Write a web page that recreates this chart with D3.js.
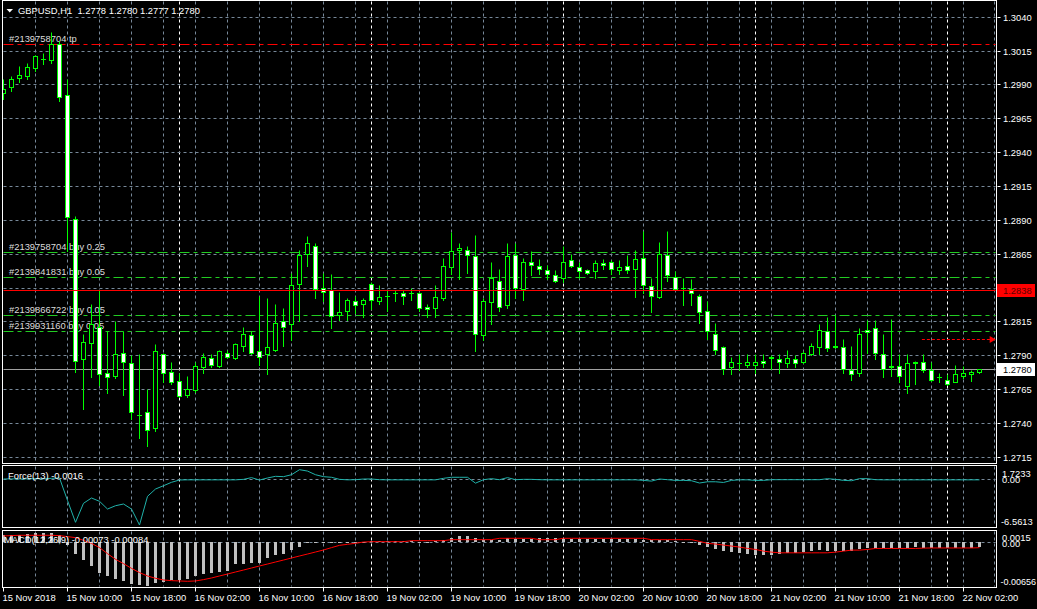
<!DOCTYPE html>
<html><head><meta charset="utf-8">
<script src="https://cdn.jsdelivr.net/npm/d3@7"></script>
<style>html,body{margin:0;padding:0;background:#000;}svg{display:block;}</style>
</head><body>
<svg id="c" width="1037" height="609"></svg>
<script>
// ---------- DATA ----------
const open  = [1.2984,1.2988,1.2995,1.2996,1.3002,1.3009,1.3008,1.3020,1.2982,1.2891,1.2787,1.2799,1.2811,1.2777,1.2775,1.2792,1.2784,1.2746,1.2748,1.2736,1.2791,1.2778,1.2771,1.2761,1.2764,1.2781,1.2788,1.2782,1.2792,1.2788,1.2797,1.2805,1.2793,1.2791,1.2794,1.2815,1.2813,1.2843,1.2865,1.2871,1.2840,1.2838,1.2820,1.2823,1.2830,1.2828,1.2843,1.2830,1.2834,1.2836,1.2836,1.2836,1.2836,1.2826,1.2825,1.2832,1.2855,1.2868,1.2868,1.2863,1.2805,1.2829,1.2845,1.2827,1.2864,1.2839,1.2859,1.2856,1.2853,1.2849,1.2847,1.2860,1.2855,1.2853,1.2852,1.2858,1.2859,1.2853,1.2856,1.2854,1.2862,1.2841,1.2833,1.2864,1.2848,1.2840,1.2839,1.2834,1.2823,1.2806,1.2796,1.2781,1.2784,1.2783,1.2783,1.2786,1.2788,1.2787,1.2784,1.2787,1.2785,1.2791,1.2796,1.2808,1.2797,1.2796,1.2779,1.2777,1.2809,1.2810,1.2791,1.2782,1.2782,1.2767,1.2784,1.2785,1.2779,1.2774,1.2772,1.2770,1.2775,1.2776,1.2778];
const high  = [1.2994,1.2996,1.3004,1.3006,1.3012,1.3013,1.3029,1.3022,1.2994,1.2893,1.2806,1.2828,1.2838,1.2808,1.2815,1.2808,1.2790,1.2791,1.2765,1.2798,1.2792,1.2785,1.2777,1.2775,1.2785,1.2792,1.2791,1.2794,1.2794,1.2799,1.2811,1.2808,1.2834,1.2832,1.2828,1.2825,1.2851,1.2868,1.2878,1.2873,1.2851,1.2850,1.2837,1.2832,1.2834,1.2832,1.2844,1.2842,1.2838,1.2838,1.2838,1.2840,1.2837,1.2828,1.2842,1.2862,1.2881,1.2873,1.2871,1.2879,1.2832,1.2859,1.2854,1.2873,1.2873,1.2862,1.2867,1.2861,1.2857,1.2853,1.2871,1.2865,1.2859,1.2854,1.2860,1.2861,1.2860,1.2860,1.2864,1.2868,1.2882,1.2847,1.2874,1.2882,1.2852,1.2847,1.2846,1.2835,1.2830,1.2814,1.2797,1.2789,1.2791,1.2791,1.2791,1.2791,1.2790,1.2791,1.2794,1.2790,1.2793,1.2799,1.2813,1.2818,1.2820,1.2802,1.2797,1.2810,1.2816,1.2816,1.2806,1.2817,1.2791,1.2791,1.2786,1.2791,1.2785,1.2777,1.2776,1.2783,1.2782,1.2779,1.2780];
const low   = [1.2979,1.2985,1.2992,1.2994,1.3000,1.3005,1.3006,1.2978,1.2867,1.2778,1.2750,1.2774,1.2768,1.2762,1.2773,1.2761,1.2743,1.2729,1.2723,1.2734,1.2770,1.2769,1.2759,1.2759,1.2763,1.2777,1.2781,1.2781,1.2788,1.2787,1.2793,1.2791,1.2783,1.2776,1.2793,1.2797,1.2801,1.2815,1.2856,1.2832,1.2830,1.2810,1.2816,1.2816,1.2821,1.2818,1.2824,1.2828,1.2823,1.2830,1.2828,1.2831,1.2823,1.2818,1.2818,1.2831,1.2850,1.2846,1.2851,1.2793,1.2801,1.2813,1.2823,1.2825,1.2832,1.2831,1.2849,1.2850,1.2846,1.2844,1.2844,1.2855,1.2847,1.2850,1.2847,1.2854,1.2850,1.2850,1.2851,1.2833,1.2836,1.2822,1.2832,1.2845,1.2838,1.2827,1.2827,1.2814,1.2802,1.2791,1.2776,1.2776,1.2779,1.2781,1.2777,1.2781,1.2780,1.2777,1.2781,1.2781,1.2784,1.2790,1.2791,1.2793,1.2795,1.2777,1.2772,1.2775,1.2792,1.2787,1.2774,1.2775,1.2770,1.2762,1.2769,1.2778,1.2771,1.2770,1.2768,1.2770,1.2773,1.2771,1.2777];
const close = [1.2987,1.2994,1.2997,1.3003,1.3011,1.3009,1.3020,1.2981,1.2892,1.2786,1.2800,1.2813,1.2776,1.2774,1.2791,1.2785,1.2748,1.2746,1.2735,1.2793,1.2777,1.2770,1.2760,1.2765,1.2782,1.2789,1.2783,1.2793,1.2789,1.2798,1.2806,1.2792,1.2789,1.2796,1.2814,1.2811,1.2842,1.2864,1.2873,1.2839,1.2837,1.2819,1.2822,1.2831,1.2827,1.2831,1.2831,1.2833,1.2834,1.2836,1.2834,1.2836,1.2825,1.2824,1.2833,1.2856,1.2867,1.2869,1.2864,1.2806,1.2830,1.2847,1.2826,1.2863,1.2840,1.2859,1.2857,1.2854,1.2850,1.2845,1.2859,1.2856,1.2852,1.2851,1.2858,1.2857,1.2854,1.2855,1.2853,1.2861,1.2842,1.2834,1.2865,1.2849,1.2839,1.2840,1.2836,1.2822,1.2808,1.2794,1.2780,1.2785,1.2784,1.2785,1.2785,1.2784,1.2789,1.2785,1.2788,1.2784,1.2792,1.2797,1.2809,1.2795,1.2796,1.2780,1.2776,1.2806,1.2807,1.2792,1.2780,1.2781,1.2775,1.2784,1.2785,1.2779,1.2772,1.2774,1.2769,1.2776,1.2777,1.2778,1.2780];

const force = [0.10,0.12,0.10,0.12,0.15,0.12,0.20,0.25,-3.00,-6.17,-3.42,-2.65,-3.13,-4.25,-3.77,-3.52,-4.25,-6.56,-2.41,-1.35,-0.87,-0.38,-0.04,-0.02,-0.02,-0.02,-0.02,-0.02,-0.02,-0.02,0.05,0.30,-0.05,0.25,0.49,0.44,0.72,1.45,1.25,0.72,0.44,0.35,0.05,-0.02,0.00,0.10,0.10,0.00,-0.02,-0.02,-0.02,-0.02,-0.02,-0.02,-0.02,0.20,0.35,0.35,0.35,-0.50,0.00,0.15,0.00,0.30,0.00,0.05,0.05,0.00,-0.02,-0.02,-0.02,-0.02,-0.02,-0.02,-0.02,-0.02,-0.02,-0.02,-0.02,-0.02,-0.10,-0.20,0.10,0.00,-0.10,-0.10,-0.15,-0.48,-0.30,-0.30,-0.40,-0.10,-0.02,-0.02,-0.10,-0.10,0.00,0.00,0.00,0.00,0.00,0.00,0.00,0.15,0.05,-0.10,-0.15,0.15,0.15,0.00,-0.02,-0.02,-0.02,-0.02,-0.02,-0.02,-0.02,-0.02,-0.02,-0.02,-0.02,-0.02,-0.02];

const macd = [0.0011,0.0011,0.0011,0.0012,0.0013,0.0013,0.0014,0.0010,-0.0004,-0.00172,-0.00271,-0.00355,-0.00453,-0.00503,-0.00542,-0.00578,-0.00616,-0.00637,-0.00652,-0.00612,-0.00587,-0.00567,-0.00567,-0.00542,-0.00503,-0.00478,-0.00459,-0.00438,-0.00429,-0.0033,-0.0033,-0.00305,-0.00305,-0.00231,-0.00193,-0.00172,-0.00123,-0.00074,-0.0001,-0.00005,-0.0001,0.0000,0.00005,0.00005,0.00005,0.0000,0.0001,0.0001,0.0001,0.0001,0.0001,0.0001,0.00005,0.00005,0.0001,0.00035,0.00055,0.00084,0.00084,0.00055,0.00025,0.00025,0.00025,0.00055,0.00045,0.0004,0.00045,0.00055,0.00055,0.00055,0.0005,0.00045,0.00045,0.00045,0.00045,0.00045,0.00045,0.00045,0.00045,0.00045,0.0003,0.00025,0.00025,0.0003,0.0001,0.0000,-0.0002,-0.00045,-0.0007,-0.0011,-0.0013,-0.0015,-0.0016,-0.0018,-0.0020,-0.0020,-0.0019,-0.0018,-0.0016,-0.0016,-0.0015,-0.0014,-0.0012,-0.0013,-0.0014,-0.0014,-0.0014,-0.0010,-0.0009,-0.0009,-0.00095,-0.0009,-0.0009,-0.0009,-0.0008,-0.0009,-0.00095,-0.00095,-0.00095,-0.0009,-0.0009,-0.00085,-0.00073];

const signal = [0.0009,0.00095,0.0010,0.0010,0.0010,0.0010,0.0010,0.00095,0.0008,0.00065,0.00025,-0.0002,-0.00083,-0.00172,-0.00256,-0.0032,-0.0039,-0.00453,-0.00503,-0.00537,-0.00562,-0.00572,-0.00577,-0.00582,-0.00577,-0.00557,-0.00533,-0.00503,-0.00474,-0.00444,-0.00415,-0.00385,-0.00355,-0.00326,-0.00296,-0.00267,-0.00237,-0.00207,-0.00178,-0.00148,-0.00118,-0.00083,-0.00049,-0.00034,-0.00019,0.0000,0.00005,0.00005,0.00005,0.00005,0.00005,0.0002,0.0002,0.0002,0.0002,0.0002,0.00035,0.00035,0.00035,0.00035,0.00035,0.00035,0.00055,0.00055,0.00055,0.00055,0.00055,0.00035,0.00035,0.00035,0.00055,0.00055,0.00055,0.00055,0.00055,0.00055,0.00055,0.00055,0.00055,0.00055,0.00055,0.00035,0.00035,0.00035,0.00035,0.00035,0.00035,0.0001,-0.0002,-0.0003,-0.00045,-0.0006,-0.00075,-0.00095,-0.0011,-0.00135,-0.0015,-0.0016,-0.0016,-0.0016,-0.0016,-0.0016,-0.0016,-0.0016,-0.0015,-0.00135,-0.0012,-0.0012,-0.0011,-0.00095,-0.00095,-0.00095,-0.00095,-0.00095,-0.00095,-0.0009,-0.00088,-0.00088,-0.00088,-0.00088,-0.00088,-0.00088,-0.00084];

const priceTicks = [1.3040,1.3015,1.2990,1.2965,1.2940,1.2915,1.2890,1.2865,1.2840,1.2815,1.2790,1.2765,1.2740,1.2715];
const priceTickLabels = ["1.3040","1.3015","1.2990","1.2965","1.2940","1.2915","1.2890","1.2865","","1.2815","1.2790","1.2765","1.2740","1.2715"];
const timeLabelBars = [0,8,16,24,32,40,48,56,64,72,80,88,96,104,112,120];
const timeLabels = ["15 Nov 2018","15 Nov 10:00","15 Nov 18:00","16 Nov 02:00","16 Nov 10:00","16 Nov 18:00","19 Nov 02:00","19 Nov 10:00","19 Nov 18:00","20 Nov 02:00","20 Nov 10:00","20 Nov 18:00","21 Nov 02:00","21 Nov 10:00","21 Nov 18:00","22 Nov 02:00"];
const daySeparatorBars = [22,46,70,94,118];
const orderLabels = ["#2139758704 tp","#2139758704 buy 0.25","#2139841831 buy 0.05","#2139866722 buy 0.05","#2139931160 buy 0.05"];
const orderPrices = [1.3020,1.2866,1.2848,1.2820,1.2808];
const orderColors = ["#ff0000","#22cc22","#22cc22","#22cc22","#22cc22"];
const hLinePrice = 1.2838;
const bidPrice = 1.2780;
const arrowPrice = 1.2802;
const arrowBars = [114.8, 123.9];
const forceRange = [-6.5613, 1.7233];
const macdRange = [-0.00656, 0.0015];

// ---------- LAYOUT ----------
const FONT = '"Liberation Sans", Arial, sans-serif';
const FS = 9.4;
const svg = d3.select('#c');
svg.append('rect').attr('width',1037).attr('height',609).attr('fill','#000');
const L = 2.5, R = 996.5;
const main = {top:0.5, bottom:463.5}, fp = {top:465.5, bottom:527.5}, mp = {top:530.5, bottom:587.5};
const px = v => Math.floor(v) + 0.5;

const x = d3.scaleLinear().domain([0,122]).range([3.5,979.5]);
const yP = d3.scaleLinear().domain([1.2715,1.3040]).range([457.3,17.3]);
const yF = d3.scaleLinear().domain(forceRange).range([525.0,467.8]);
const yM = d3.scaleLinear().domain(macdRange).range([586.3,531.9]);

const defs = svg.append('defs');
[['cm',main],['cf',fp],['cmacd',mp]].forEach(([id,p])=>{
  defs.append('clipPath').attr('id',id).append('rect')
    .attr('x',L+0.5).attr('y',p.top+0.5).attr('width',R-L-1).attr('height',p.bottom-p.top-1);
});

const GRID = '#778899';
const bars = d3.range(open.length);

// vertical grid in all panels
[main,fp,mp].forEach(p=>{
  const g = svg.append('g');
  g.selectAll('line.g').data(bars.filter(i=>i>0 && i%4===0)).join('line')
    .attr('x1',i=>x(i)).attr('x2',i=>x(i)).attr('y1',p.top+1).attr('y2',p.bottom-1)
    .attr('stroke',GRID).attr('stroke-dasharray','3,3');
  g.selectAll('line.d').data(daySeparatorBars).join('line')
    .attr('x1',i=>x(i)).attr('x2',i=>x(i)).attr('y1',p.top+1).attr('y2',p.bottom-1)
    .attr('stroke','#ffffff').attr('stroke-dasharray','3,3');
  svg.append('line').attr('x1',994.5).attr('x2',994.5).attr('y1',p.top+1).attr('y2',p.bottom-1)
    .attr('stroke',GRID).attr('stroke-dasharray','3,3');
});

// horizontal price grid
svg.append('g').selectAll('line').data(priceTicks).join('line')
  .attr('x1',L+1).attr('x2',R-1).attr('y1',d=>px(yP(d))).attr('y2',d=>px(yP(d)))
  .attr('stroke',GRID).attr('stroke-dasharray','3,3');

// order lines + labels
const mg = svg.append('g').attr('clip-path','url(#cm)');
mg.selectAll('text.ol').data(orderLabels).join('text')
  .attr('x',9).attr('y',(d,i)=>px(yP(orderPrices[i]))-3)
  .attr('fill','#dcdcdc').attr('font-family',FONT).attr('font-size',FS).text(d=>d);
mg.selectAll('line.ol').data(orderPrices).join('line')
  .attr('x1',L+1).attr('x2',R-1).attr('y1',d=>px(yP(d))).attr('y2',d=>px(yP(d)))
  .attr('stroke',(d,i)=>orderColors[i]).attr('stroke-dasharray','10,4,4,4');

// bid line
mg.append('line').attr('x1',L+1).attr('x2',R-1).attr('y1',px(yP(bidPrice))).attr('y2',px(yP(bidPrice)))
  .attr('stroke','#a0a0a0');

// candles
const cg = mg.append('g');
cg.selectAll('line.w').data(bars).join('line')
  .attr('x1',i=>x(i)).attr('x2',i=>x(i))
  .attr('y1',i=>px(yP(high[i]))).attr('y2',i=>px(yP(low[i]))+0.5)
  .attr('stroke','#00ff00');
bars.forEach(i=>{
  const yo = px(yP(open[i])), yc = px(yP(close[i]));
  const cx = x(i);
  if (Math.abs(yo-yc) < 1) {
    cg.append('line').attr('x1',cx-2.5).attr('x2',cx+2.5).attr('y1',yo).attr('y2',yo).attr('stroke','#00ff00');
  } else {
    cg.append('rect').attr('x',cx-2).attr('width',4)
      .attr('y',Math.min(yo,yc)).attr('height',Math.abs(yo-yc))
      .attr('fill', close[i] < open[i] ? '#ffffff' : '#000000')
      .attr('stroke','#00ff00');
  }
});

// red horizontal line (foreground)
mg.append('line').attr('x1',L+1).attr('x2',R-1).attr('y1',px(yP(hLinePrice))).attr('y2',px(yP(hLinePrice)))
  .attr('stroke','#ff0000');

// red dashed arrow
const ay = px(yP(arrowPrice));
mg.append('line').attr('x1',x(arrowBars[0])).attr('x2',x(arrowBars[1])-3).attr('y1',ay).attr('y2',ay)
  .attr('stroke','#ff0000').attr('stroke-dasharray','3,2');
mg.append('path').attr('d',`M${x(arrowBars[1])-5},${ay-3.5}L${x(arrowBars[1])+1},${ay}L${x(arrowBars[1])-5},${ay+3.5}Z`).attr('fill','#ff0000');

// title
svg.append('path').attr('d','M6.5,9L13,9L9.75,12.5Z').attr('fill','#ffffff');
svg.append('text').attr('x',18).attr('y',14).attr('fill','#ffffff').attr('font-family',FONT).attr('font-size',FS)
  .attr('xml:space','preserve').text('GBPUSD,H1  1.2778 1.2780 1.2777 1.2780');

// panel borders
[main,fp,mp].forEach(p=>{
  svg.append('rect').attr('x',L).attr('y',p.top).attr('width',R-L).attr('height',p.bottom-p.top)
    .attr('fill','none').attr('stroke','#ffffff');
});

// price axis
const pa = svg.append('g');
pa.selectAll('line').data(priceTicks).join('line')
  .attr('x1',R+1).attr('x2',R+4).attr('y1',d=>px(yP(d))).attr('y2',d=>px(yP(d))).attr('stroke','#ffffff');
pa.selectAll('text').data(priceTicks).join('text')
  .attr('x',1003).attr('y',d=>yP(d)+3.4).attr('fill','#ffffff').attr('font-family',FONT).attr('font-size',FS)
  .text((d,i)=>priceTickLabels[i]);
function priceBox(p, bg, fg){
  const yy = px(yP(p));
  pa.append('rect').attr('x',997).attr('y',yy-6.5).attr('width',38).attr('height',13).attr('fill',bg);
  pa.append('text').attr('x',1003).attr('y',yy+3.4).attr('fill',fg).attr('font-family',FONT).attr('font-size',FS).text(p.toFixed(4));
}
priceBox(hLinePrice,'#ff0000','#5a0000');
priceBox(bidPrice,'#ffffff','#000000');

// ---------- FORCE ----------
const fg = svg.append('g').attr('clip-path','url(#cf)');
fg.append('line').attr('x1',L+1).attr('x2',R-1).attr('y1',px(yF(0))).attr('y2',px(yF(0)))
  .attr('stroke',GRID).attr('stroke-dasharray','3,3');
fg.append('path').datum(force)
  .attr('d',d3.line().x((d,i)=>x(i)).y(d=>yF(d)))
  .attr('fill','none').attr('stroke','#20b2aa').attr('stroke-width',1);
svg.append('text').attr('x',8).attr('y',479).attr('fill','#ffffff').attr('font-family',FONT).attr('font-size',FS).text('Force(13) -0.0016');
const fa = svg.append('g').attr('font-family',FONT).attr('font-size',FS).attr('fill','#ffffff');
fa.append('text').attr('x',1002).attr('y',fp.top+11).text(forceRange[1].toFixed(4));
fa.append('text').attr('x',1002).attr('y',yF(0)+3.6).text('0.00');
fa.append('text').attr('x',1001).attr('y',fp.bottom-3).text(forceRange[0].toFixed(4));

// ---------- MACD ----------
const mgm = svg.append('g').attr('clip-path','url(#cmacd)');
mgm.append('line').attr('x1',L+1).attr('x2',R-1).attr('y1',px(yM(0))).attr('y2',px(yM(0)))
  .attr('stroke',GRID).attr('stroke-dasharray','3,3');
mgm.selectAll('rect').data(macd).join('rect')
  .attr('x',(d,i)=>x(i)-1.5).attr('width',3)
  .attr('y',d=>Math.round(Math.min(yM(d),yM(0))))
  .attr('height',d=>Math.max(1,Math.round(Math.abs(yM(d)-yM(0)))))
  .attr('fill','#c0c0c0');
mgm.append('path').datum(signal)
  .attr('d',d3.line().x((d,i)=>x(i)).y(d=>yM(d)))
  .attr('fill','none').attr('stroke','#ff0000').attr('stroke-width',1);
svg.append('text').attr('x',4).attr('y',543).attr('fill','#ffffff').attr('font-family',FONT).attr('font-size',FS).text('MACD(12,26,9) -0.00073 -0.00084');
const ma = svg.append('g').attr('font-family',FONT).attr('fill','#ffffff');
ma.append('text').attr('x',1002).attr('y',mp.top+10).attr('font-size',FS).text(macdRange[1].toFixed(4));
ma.append('text').attr('x',1002).attr('y',yM(0)+5).attr('font-size',FS).text('0.00');
ma.append('text').attr('x',1000.5).attr('y',mp.bottom-3).attr('font-size',9).text(macdRange[0].toFixed(5));

// ---------- TIME AXIS ----------
const ta = svg.append('g');
ta.selectAll('line').data(timeLabelBars).join('line')
  .attr('x1',i=>x(i)).attr('x2',i=>x(i)).attr('y1',mp.bottom).attr('y2',mp.bottom+4).attr('stroke','#ffffff');
ta.selectAll('text').data(timeLabelBars).join('text')
  .attr('x',i=>x(i)-1).attr('y',601).attr('fill','#ffffff').attr('font-family',FONT).attr('font-size',FS)
  .text((d,i)=>timeLabels[i]);
</script>
</body></html>
